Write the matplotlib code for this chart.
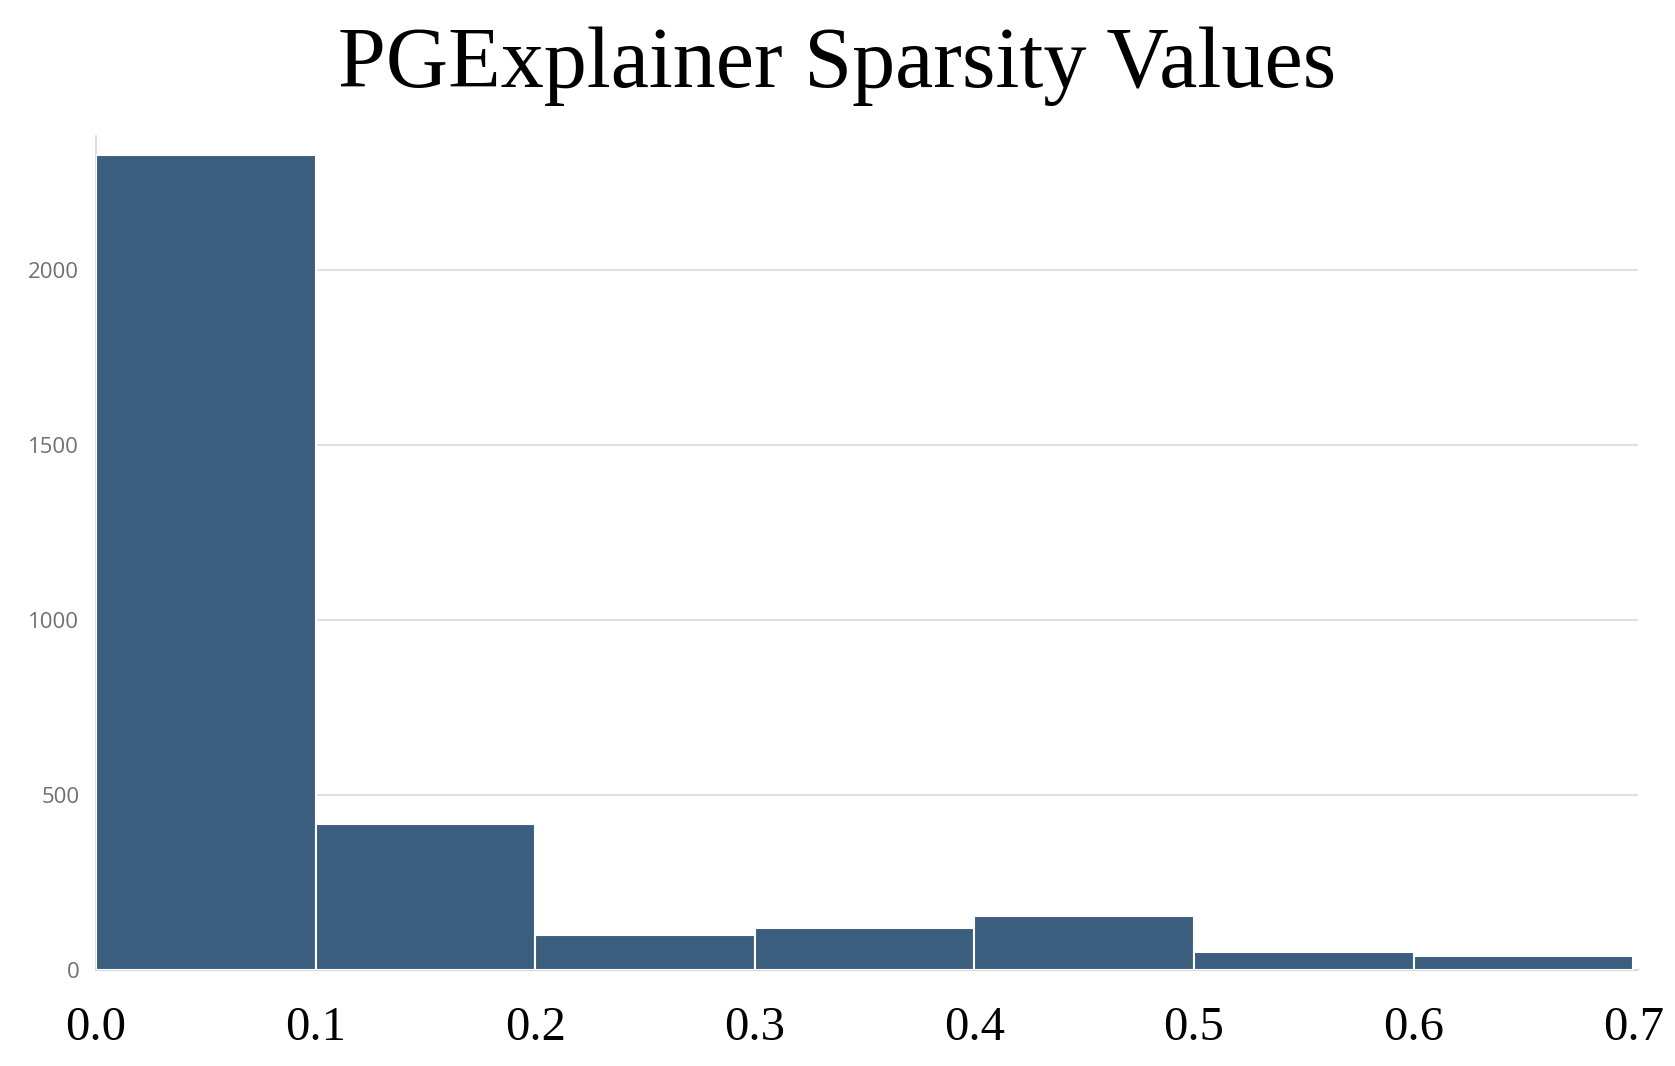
import numpy as np
import matplotlib.pyplot as plt

# histogram of sparsity values
bin_edges = [0.0, 0.1, 0.2, 0.3, 0.4, 0.5, 0.6, 0.7]
counts = [2328, 417, 100, 119, 155, 52, 40]
yticks = [0, 500, 1000, 1500, 2000]
xtick_labels = ["0.0", "0.1", "0.2", "0.3", "0.4", "0.5", "0.6", "0.7"]

fig = plt.figure(figsize=(16.75, 10.66), dpi=100)
ax = fig.add_axes([0.0573, 0.090, 0.9204, 0.782])

edges = np.asarray(bin_edges)
ax.bar(edges[:-1], counts, width=np.diff(edges), align='edge',
       color='#3b5e7e', edgecolor='white', linewidth=1.5, zorder=3)

ax.set_xlim(edges[0], 0.702)
ax.set_ylim(0, 2380)

ax.set_yticks(yticks)
ax.set_yticklabels([str(v) for v in yticks], fontfamily='Open Sans',
                   fontsize=16, color='#707070')
ax.set_xticks(edges)
ax.set_xticklabels(xtick_labels, fontfamily='Liberation Serif', fontsize=35,
                   color='black')
ax.tick_params(axis='y', length=0, pad=12)
ax.tick_params(axis='x', length=0, pad=26)

ax.grid(axis='y', color='#e0e0e0', lw=1.5, zorder=0)
for s in ['top', 'right']:
    ax.spines[s].set_visible(False)
ax.spines['left'].set_color('#d9d9d9')
ax.spines['left'].set_linewidth(1.2)
ax.spines['bottom'].set_color('#d9d9d9')
ax.spines['bottom'].set_linewidth(1.5)

fig.suptitle("PGExplainer Sparsity Values", fontfamily='Liberation Serif',
             fontsize=62, x=0.5, y=0.975)

plt.savefig("out.png")
